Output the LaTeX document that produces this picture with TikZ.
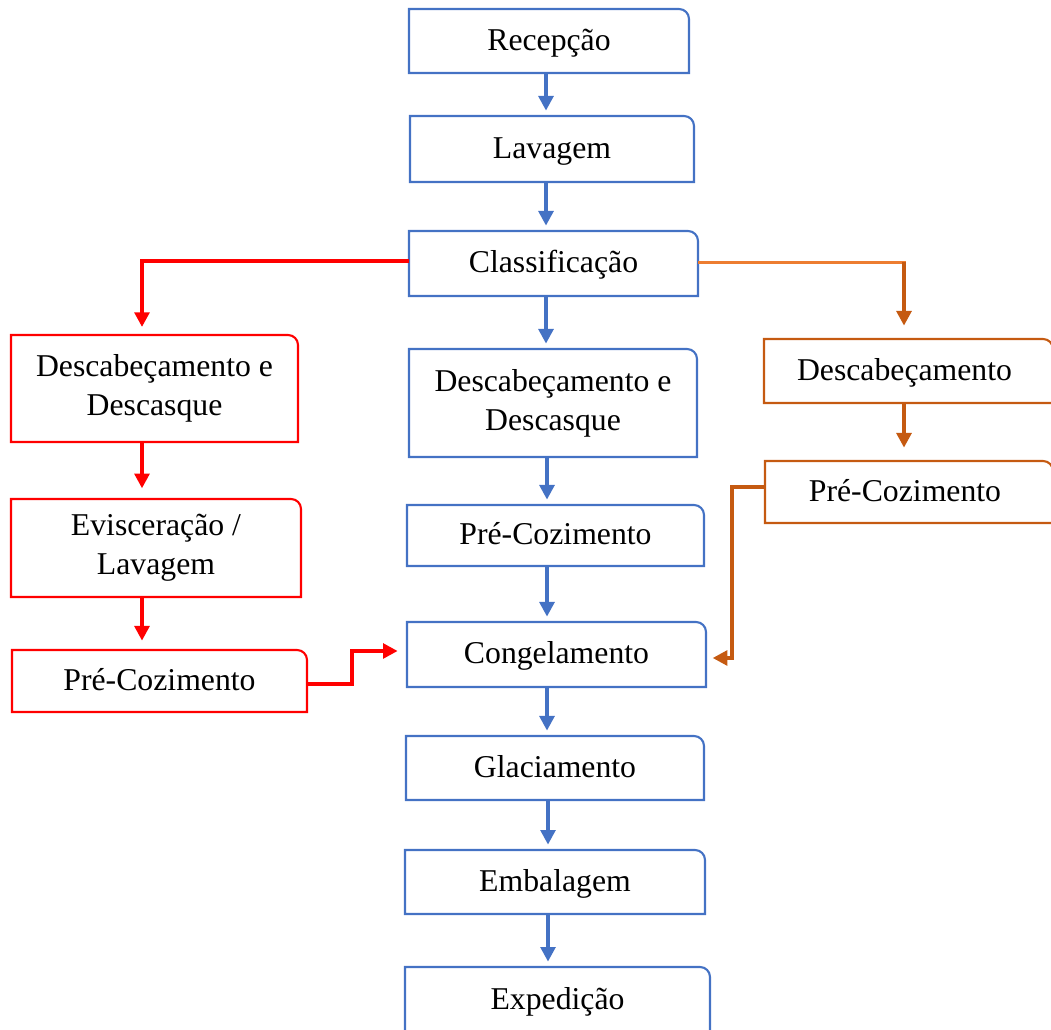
\documentclass[tikz,border=0pt]{standalone}
\usepackage{fontspec}
\setmainfont{Liberation Serif}
\usetikzlibrary{arrows.meta}
\definecolor{bl}{HTML}{4472C4}
\definecolor{rd}{HTML}{FF0000}
\definecolor{orD}{HTML}{C55A11}
\definecolor{orL}{HTML}{ED7D31}
\newcommand\boxline[2]{\draw[#2,line width=1.6pt] (#1.south west) -- (#1.north west) -- ([xshift=-7.5pt]#1.north east) arc[start angle=90,end angle=0,radius=7.5pt] -- (#1.south east) -- cycle;}
\tikzset{
  flowbox/.style={rectangle, draw=none, outer sep=0pt, inner sep=2pt, align=center,
    font=\fontsize{23.8}{29.3}\selectfont},
  oneline/.style={flowbox, text height=16.7pt, text depth=3.1pt},
  conn/.style={line width=2.8pt, -{Triangle[width=11pt,length=11pt]}},
  plain/.style={line width=2.8pt}
}
\begin{document}
\begin{tikzpicture}[x=0.75pt,y=-0.75pt]
\useasboundingbox (0,0) rectangle (1051,1030);
% blue column
\node[oneline, minimum width=210pt, minimum height=48pt] (rec) at (549,41) {Recepção};
\node[oneline, minimum width=213pt, minimum height=49.5pt] (lav) at (552,149) {Lavagem};
\node[oneline, minimum width=216.75pt, minimum height=48.75pt] (cla) at (553.5,263.5) {Classificação};
\node[flowbox, minimum width=216pt, minimum height=81pt] (dd) at (553,403) {Descabeçamento e\\Descasque};
\node[oneline, minimum width=222.75pt, minimum height=45.75pt] (pc) at (555.5,535.5) {Pré-Cozimento};
\node[oneline, minimum width=224.25pt, minimum height=48.75pt] (con) at (556.5,654.5) {Congelamento};
\node[oneline, minimum width=223.5pt, minimum height=48pt] (gla) at (555,768) {Glaciamento};
\node[oneline, minimum width=225pt, minimum height=48pt] (emb) at (555,882) {Embalagem};
\node[oneline, minimum width=228.75pt, minimum height=49.5pt] (exp) at (557.5,1000) {Expedição};
% red column
\node[flowbox, minimum width=215.25pt, minimum height=80.25pt] (rdd) at (154.5,388.5) {Descabeçamento e\\Descasque};
\node[flowbox, minimum width=217.5pt, minimum height=73.5pt] (rev) at (156,548) {Evisceração /\\Lavagem};
\node[oneline, minimum width=221.25pt, minimum height=46.5pt] (rpc) at (159.5,681) {Pré-Cozimento};
% orange column
\node[oneline, minimum width=216.75pt, minimum height=48pt] (od) at (908.5,371) {\hspace*{-6pt}Descabeçamento};
\node[oneline, minimum width=216pt, minimum height=46.5pt] (op) at (909,492) {\hspace*{-6pt}Pré-Cozimento};

\foreach \n in {rec,lav,cla,dd,pc,con,gla,emb,exp} {\boxline{\n}{bl}}
\foreach \n in {rdd,rev,rpc} {\boxline{\n}{rd}}
\foreach \n in {od,op} {\boxline{\n}{orD}}

% blue arrows
\coordinate (sp) at (546,0);
\begin{scope}[bl, shorten >=4pt]
\draw[conn] (rec.south -| sp) -- (lav.north -| sp);
\draw[conn] (lav.south -| sp) -- (cla.north -| sp);
\draw[conn] (cla.south -| sp) -- (dd.north -| sp);
\coordinate (sp2) at (547,0);
\draw[conn] (dd.south -| sp2) -- (pc.north -| sp2);
\draw[conn] (pc.south -| sp2) -- (con.north -| sp2);
\draw[conn] (con.south -| sp2) -- (gla.north -| sp2);
\coordinate (sp3) at (548,0);
\draw[conn] (gla.south -| sp3) -- (emb.north -| sp3);
\draw[conn] (emb.south -| sp3) -- (exp.north -| sp3);
\end{scope}

% red branch
\coordinate (rx) at (142,261);
\begin{scope}[rd]
\draw[conn, shorten >=6pt] (cla.west |- rx) -- (rx) -- (rdd.north -| rx);
\draw[conn, shorten >=8pt] (rdd.south -| rx) -- (rev.north -| rx);
\draw[conn, shorten >=7pt] (rev.south -| rx) -- (rpc.north -| rx);
\coordinate (rj1) at (352,684);
\coordinate (rj2) at (352,651);
\draw[conn, shorten >=7pt] (rpc.east |- rj1) -- (rj1) -- (rj2) -- (con.west |- rj2);
\end{scope}

% orange branch
\coordinate (ox) at (904,262.5);
\draw[orL, plain] (cla.east |- ox) -- ([xshift=1.4pt]ox);
\draw[orD, conn, shorten >=10pt] (ox) -- (od.north -| ox);
\draw[orD, conn, shorten >=10pt] (od.south -| ox) -- (op.north -| ox);
\coordinate (oj1) at (732,487);
\coordinate (oj2) at (732,658);
\draw[orD, conn, shorten >=5pt] (op.west |- oj1) -- (oj1) -- (oj2) -- (con.east |- oj2);
\end{tikzpicture}
\end{document}
